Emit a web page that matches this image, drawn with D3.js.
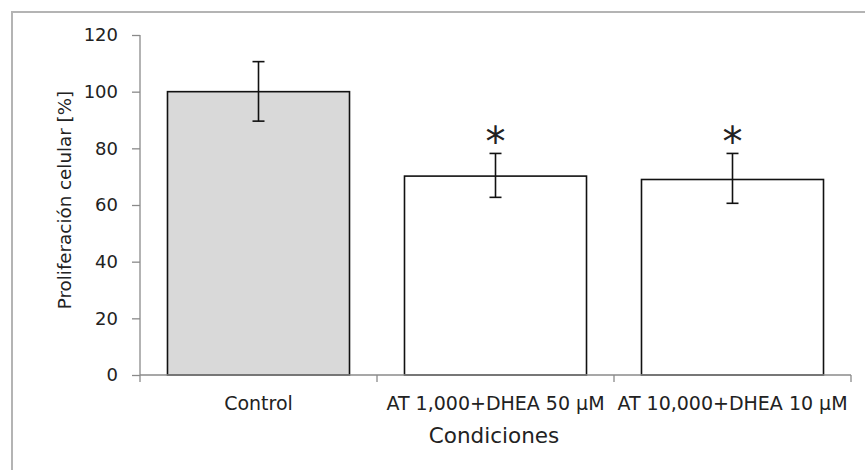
<!DOCTYPE html>
<html lang="en">
<meta charset="utf-8">
<script src="https://d3js.org/d3.v7.min.js"></script>
<style>
  body { margin: 0; background: #fff; }
  text { font-family: "DejaVu Sans", sans-serif; fill: #222; }
</style>
<div id="my_dataviz"></div>
<script>

  // data
  var conditions = ["Control", "AT 1,000+DHEA 50 \u00b5M", "AT 10,000+DHEA 10 \u00b5M"];
  var proliferation = [100, 70.2, 69.0];
  var errLow = [89.6, 62.7, 60.6];
  var errHigh = [110.6, 78.2, 78.2];
  var significant = [false, true, true];
  var yTicks = [0, 20, 40, 60, 80, 100, 120];

  var width = 865, height = 470;

  var svg = d3.select("#my_dataviz")
    .append("svg")
      .attr("width", width)
      .attr("height", height);

  // outer chart frame (runs off the right and bottom edge)
  svg.append("rect")
    .attr("x", 12).attr("y", 12)
    .attr("width", 900).attr("height", 500)
    .attr("fill", "none")
    .attr("stroke", "#b4b4b4")
    .attr("stroke-width", 2);

  var x = d3.scaleBand()
    .domain(conditions)
    .range([140, 851])
    .paddingInner(0.232)
    .paddingOuter(0.116);

  var y = d3.scaleLinear()
    .domain([0, 120])
    .range([375, 35]);

  // y axis
  var yAxis = svg.append("g")
    .attr("transform", "translate(140,0)")
    .call(d3.axisLeft(y).tickValues(yTicks).tickSize(8).tickPadding(14));
  yAxis.selectAll("line, path").attr("stroke", "#8a8a8a").attr("stroke-width", 1.3);
  yAxis.select(".domain").attr("d", "M0," + y(120) + "V" + y(0));
  yAxis.selectAll("text")
    .attr("font-family", "DejaVu Sans")
    .attr("font-size", 18)
    .attr("fill", "#222");

  // bars
  svg.selectAll(".bar")
    .data(conditions)
    .enter()
    .append("rect")
      .attr("class", "bar")
      .attr("x", function(d) { return x(d); })
      .attr("y", function(d, i) { return y(proliferation[i]); })
      .attr("width", x.bandwidth())
      .attr("height", function(d, i) { return y(0) - y(proliferation[i]); })
      .attr("fill", function(d, i) { return i == 0 ? "#d9d9d9" : "#fff"; })
      .attr("stroke", "#111")
      .attr("stroke-width", 1.6);

  // x axis (ticks between categories)
  var xg = svg.append("g");
  xg.append("line")
    .attr("x1", 140).attr("x2", 851)
    .attr("y1", y(0)).attr("y2", y(0))
    .attr("stroke", "#8a8a8a").attr("stroke-width", 1.6);
  var bounds = [140].concat(conditions.map(function(d) { return x(d) + x.bandwidth() + x.step() * x.paddingInner() / 2; }));
  xg.selectAll(".xtick")
    .data(bounds)
    .enter()
    .append("line")
      .attr("x1", function(d) { return d; })
      .attr("x2", function(d) { return d; })
      .attr("y1", y(0))
      .attr("y2", y(0) + 7)
      .attr("stroke", "#8a8a8a").attr("stroke-width", 1.3);
  xg.selectAll(".xlabel")
    .data(conditions)
    .enter()
    .append("text")
      .attr("x", function(d) { return x(d) + x.bandwidth() / 2; })
      .attr("y", 410)
      .attr("text-anchor", "middle")
      .attr("font-size", 19)
      .text(function(d) { return d; });

  // error bars
  var eb = svg.selectAll(".err")
    .data(conditions)
    .enter()
    .append("g")
      .attr("transform", function(d) { return "translate(" + (x(d) + x.bandwidth() / 2) + ",0)"; })
      .attr("stroke", "#111")
      .attr("stroke-width", 1.6);
  eb.append("line")
    .attr("y1", function(d, i) { return y(errLow[i]); })
    .attr("y2", function(d, i) { return y(errHigh[i]); });
  eb.append("line")
    .attr("x1", -6).attr("x2", 6)
    .attr("y1", function(d, i) { return y(errLow[i]); })
    .attr("y2", function(d, i) { return y(errLow[i]); });
  eb.append("line")
    .attr("x1", -6).attr("x2", 6)
    .attr("y1", function(d, i) { return y(errHigh[i]); })
    .attr("y2", function(d, i) { return y(errHigh[i]); });

  // significance marks
  svg.selectAll(".star")
    .data(conditions.filter(function(d, i) { return significant[i]; }))
    .enter()
    .append("text")
      .attr("x", function(d) { return x(d) + x.bandwidth() / 2; })
      .attr("y", function(d) { return y(errHigh[conditions.indexOf(d)]) + 3; })
      .attr("text-anchor", "middle")
      .attr("font-size", 40)
      .attr("fill", "#111")
      .text("*");

  // axis titles
  svg.append("text")
    .attr("x", 494)
    .attr("y", 443)
    .attr("text-anchor", "middle")
    .attr("font-size", 21.5)
    .text("Condiciones");

  svg.append("text")
    .attr("transform", "translate(71,200) rotate(-90)")
    .attr("text-anchor", "middle")
    .attr("font-size", 18.3)
    .text("Proliferación celular [%]");

</script>
</html>
